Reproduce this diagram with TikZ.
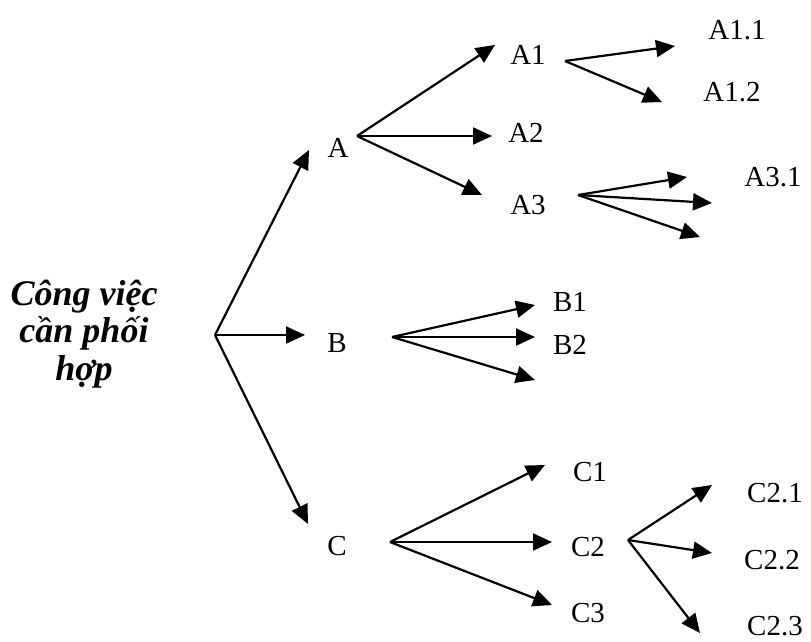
\documentclass[tikz,border=0pt]{standalone}
\usepackage{fontspec}
\setmainfont{Liberation Serif}
\usetikzlibrary{arrows.meta}

\begin{document}
\begin{tikzpicture}[x=1pt, y=-1pt, >={Triangle[length=19pt,width=17pt]},
    lbl/.style={font=\fontsize{29}{32}\selectfont, inner sep=0pt},
    link/.style={->, line width=2.2pt}]
        \useasboundingbox (0,0) rectangle (811,641);

        % Root text
        \node[font=\fontsize{36}{37.5}\selectfont\bfseries\itshape, align=center, inner sep=0pt] (root) at (84,334) {Công việc\\cần phối\\hợp};

        % Level 1 labels
        \node[lbl] (A) at (338,148) {A};
        \node[lbl] (B) at (337,343) {B};
        \node[lbl] (C) at (337,546) {C};

        % Level 2 labels
        \node[lbl] (A1) at (528,55) {A1};
        \node[lbl] (A2) at (526,133) {A2};
        \node[lbl] (A3) at (528,205) {A3};
        \node[lbl] (B1) at (570,302) {B1};
        \node[lbl] (B2) at (570,345) {B2};
        \node[lbl] (C1) at (590,472) {C1};
        \node[lbl] (C2) at (588,547) {C2};
        \node[lbl] (C3) at (588,613) {C3};

        % Level 3 labels
        \node[lbl] (A11) at (737,30) {A1.1};
        \node[lbl] (A12) at (732,92) {A1.2};
        \node[lbl] (A31) at (773,177) {A3.1};
        \node[lbl] (C21) at (775,493) {C2.1};
        \node[lbl] (C22) at (772,560) {C2.2};
        \node[lbl] (C23) at (775,626) {C2.3};

        % Fork points
        \coordinate (fR) at (215,335);
        \coordinate (fA) at (357,136);
        \coordinate (fA1) at (565,61);
        \coordinate (fA3) at (578,195);
        \coordinate (fB) at (392,337);
        \coordinate (fC) at (390,542);
        \coordinate (fC2) at (628,540);

        % Arrow tips
        \coordinate (tA) at (309,150);
        \coordinate (tB) at (305,335);
        \coordinate (tC) at (308,524);
        \coordinate (tA1) at (495,45);
        \coordinate (tA2) at (492,136);
        \coordinate (tA3) at (482,195);
        \coordinate (tA11) at (675,46);
        \coordinate (tA12) at (662,102);
        \coordinate (tA31) at (687,177);
        \coordinate (tA32) at (712,203);
        \coordinate (tA33) at (700,237);
        \coordinate (tB1) at (535,305);
        \coordinate (tB2) at (535,337);
        \coordinate (tB3) at (535,380);
        \coordinate (tC1) at (545,465);
        \coordinate (tC2) at (552,542);
        \coordinate (tC3) at (552,605);
        \coordinate (tC21) at (712,485);
        \coordinate (tC22) at (712,553);
        \coordinate (tC23) at (700,633);

        % Arrows
        \draw[link] (fR) -- (tA);
        \draw[link] (fR) -- (tB);
        \draw[link] (fR) -- (tC);
        \draw[link] (fA) -- (tA1);
        \draw[link] (fA) -- (tA2);
        \draw[link] (fA) -- (tA3);
        \draw[link] (fA1) -- (tA11);
        \draw[link] (fA1) -- (tA12);
        \draw[link] (fA3) -- (tA31);
        \draw[link] (fA3) -- (tA32);
        \draw[link] (fA3) -- (tA33);
        \draw[link] (fB) -- (tB1);
        \draw[link] (fB) -- (tB2);
        \draw[link] (fB) -- (tB3);
        \draw[link] (fC) -- (tC1);
        \draw[link] (fC) -- (tC2);
        \draw[link] (fC) -- (tC3);
        \draw[link] (fC2) -- (tC21);
        \draw[link] (fC2) -- (tC22);
        \draw[link] (fC2) -- (tC23);
\end{tikzpicture}
\end{document}
